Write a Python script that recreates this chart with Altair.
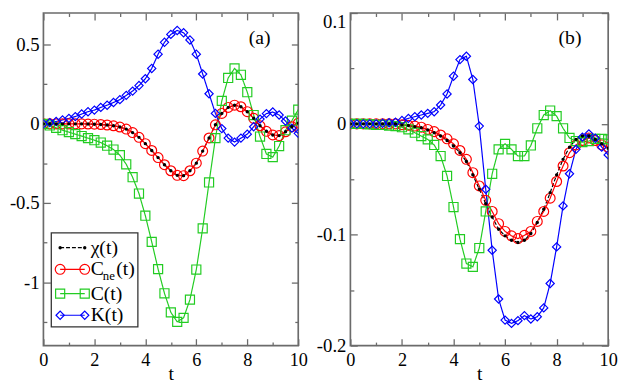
import altair as alt
import pandas as pd

# ---------------- data ----------------
T = [0, 0.25, 0.5, 0.75, 1, 1.25, 1.5, 1.75, 2, 2.25, 2.5, 2.75, 3, 3.25, 3.5, 3.75,
     4, 4.25, 4.5, 4.75, 5, 5.25, 5.5, 5.75, 6, 6.25, 6.5, 6.75, 7, 7.25, 7.5, 7.75,
     8, 8.25, 8.5, 8.75, 9, 9.25, 9.5, 9.75, 10]

SERIES = ["χ(t)", "C_ne(t)", "C(t)", "K(t)"]
COLORS = ["#000000", "#ff0000", "#22cc22", "#0000ff"]

# panel (a)
A_CNE = [0, 0, 0, 0, 0, 0, 0, -0.001, -0.002, -0.004, -0.007, -0.012, -0.02, -0.033,
         -0.055, -0.085, -0.125, -0.168, -0.213, -0.258, -0.296, -0.325, -0.327, -0.296,
         -0.248, -0.172, -0.089, -0.006, 0.066, 0.104, 0.118, 0.108, 0.077, 0.035,
         -0.012, -0.047, -0.07, -0.074, -0.05, -0.018, 0.005]
A_CHI = [0, 0, 0, 0, 0, 0, 0, -0.001, -0.002, -0.004, -0.007, -0.012, -0.02, -0.033,
         -0.055, -0.085, -0.125, -0.168, -0.213, -0.258, -0.296, -0.325, -0.327, -0.296,
         -0.248, -0.172, -0.089, -0.006, 0.066, 0.104, 0.118, 0.108, 0.077, 0.035,
         -0.012, -0.047, -0.07, -0.074, -0.05, -0.018, 0.005]
A_C = [0, -0.01, -0.025, -0.04, -0.052, -0.065, -0.077, -0.09, -0.103, -0.118, -0.138,
       -0.162, -0.198, -0.255, -0.337, -0.44, -0.58, -0.745, -0.917, -1.07, -1.19, -1.25,
       -1.225, -1.11, -0.92, -0.66, -0.37, -0.09, 0.145, 0.29, 0.35, 0.31, 0.2, 0.056,
       -0.08, -0.19, -0.21, -0.14, -0.04, 0.02, 0.09]
A_K = [0, 0.008, 0.015, 0.025, 0.035, 0.046, 0.062, 0.077, 0.087, 0.104, 0.118, 0.135,
       0.153, 0.18, 0.207, 0.242, 0.285, 0.35, 0.44, 0.515, 0.565, 0.59, 0.575, 0.53,
       0.44, 0.315, 0.19, 0.066, -0.03, -0.09, -0.115, -0.09, -0.065, -0.018, 0.03,
       0.065, 0.075, 0.056, 0.018, -0.027, -0.06]

# panel (b)
B_CNE = [0, 0, 0, 0, 0, 0, 0, 0, -0.0008, -0.0013, -0.002, -0.003, -0.005, -0.007,
         -0.01, -0.0135, -0.018, -0.024, -0.032, -0.044, -0.056, -0.069, -0.079, -0.09,
         -0.097, -0.101, -0.1035, -0.1005, -0.097, -0.088, -0.079, -0.067, -0.052,
         -0.038, -0.026, -0.019, -0.015, -0.0127, -0.015, -0.019, -0.021]
B_CHI = [0, 0, 0, 0, 0, 0, 0, 0, -0.001, -0.0015, -0.0025, -0.0035, -0.0055, -0.008,
         -0.011, -0.015, -0.02, -0.026, -0.034, -0.046, -0.059, -0.072, -0.084, -0.095,
         -0.101, -0.105, -0.107, -0.105, -0.099, -0.089, -0.077, -0.062, -0.046, -0.032,
         -0.021, -0.014, -0.011, -0.011, -0.014, -0.018, -0.022]
B_C = [0, 0, 0, -0.0005, -0.001, -0.001, -0.0015, -0.002, -0.003, -0.005, -0.008,
       -0.011, -0.014, -0.019, -0.029, -0.047, -0.075, -0.104, -0.126, -0.129, -0.112,
       -0.079, -0.045, -0.023, -0.018, -0.023, -0.029, -0.029, -0.0195, -0.004, 0.008,
       0.012, 0.007, -0.004, -0.0127, -0.0155, -0.0165, -0.0155, -0.0135, -0.0135, -0.014]
B_K = [0, 0, 0, 0, 0, 0.0005, 0.001, 0.0015, 0.003, 0.005, 0.0065, 0.008, 0.0095, 0.011,
       0.017, 0.027, 0.043, 0.058, 0.061, 0.04, -0.002, -0.059, -0.114, -0.158, -0.177,
       -0.18, -0.1775, -0.173, -0.176, -0.174, -0.166, -0.144, -0.111, -0.074, -0.045,
       -0.023, -0.012, -0.009, -0.013, -0.021, -0.028]

X_TICKS = [0, 1, 2, 3, 4, 5, 6, 7, 8, 9, 10]
A_YTICKS = [-1.25, -1.0, -0.75, -0.5, -0.25, 0, 0.25, 0.5]
B_YTICKS = [-0.2, -0.15, -0.1, -0.05, 0, 0.05, 0.1]

# ---------------- style ----------------
FONT = "'Liberation Serif', 'Times New Roman', 'DejaVu Serif', serif"
FRAME = "#6b6b6b"

color_scale = alt.Scale(domain=SERIES, range=COLORS)
dash_scale = alt.Scale(domain=SERIES, range=[[4, 2], [1, 0], [1, 0], [1, 0]])
shape_scale = alt.Scale(domain=SERIES[1:], range=["circle", "square", "diamond"])
size_scale = alt.Scale(domain=SERIES[1:], range=[100, 70, 85])


def long_df(chi, cne, c, k):
    rows = []
    for name, vals in zip(SERIES, [chi, cne, c, k]):
        for t, v in zip(T, vals):
            rows.append({"t": t, "v": v, "s": name})
    return pd.DataFrame(rows)


def x_axis(orient, show_labels):
    kw = dict(orient=orient, values=X_TICKS, domain=False, grid=False,
              tickColor=FRAME, tickWidth=1.3,
              tickSize=alt.ExprRef("datum.value % 2 == 0 ? -7 : -3.5"),
              labels=show_labels, labelOverlap=False, labelFlush=False,
              labelFont=FONT, labelFontSize=18.5, labelColor="black",
              labelPadding=12,
              labelExpr="datum.value % 2 == 0 ? '' + datum.value : ''")
    if show_labels:
        kw.update(titleFont=FONT, titleFontSize=20, titleFontWeight="normal",
                  titleColor="black", titleY=34, titleBaseline="alphabetic")
    return alt.Axis(**kw)


def y_axis(orient, show_labels, values, mult, top_value=None):
    major = f"abs(datum.value*{mult} - round(datum.value*{mult})) < 1e-6"
    kw = dict(orient=orient, values=values, domain=False, grid=False,
              tickColor=FRAME, tickWidth=1.3,
              tickSize=alt.ExprRef(f"{major} ? -7 : -3.5"),
              labels=show_labels, labelOverlap=False, labelFlush=False,
              labelFont=FONT, labelFontSize=19, labelColor="black",
              labelPadding=11.5,
              labelExpr=f"{major} ? '' + datum.value : ''")
    if top_value is not None:
        kw["labelBaseline"] = {"condition": {"test": f"datum.value > {top_value}",
                                             "value": "top"},
                               "value": "middle"}
    return alt.Axis(**kw)


def panel(df, ydomain, yticks, mult, width, label, label_x, legend, top_value=None):
    xs = alt.Scale(domain=[0, 10], nice=False, zero=False)
    ys = alt.Scale(domain=ydomain, nice=False, zero=False)

    lines = alt.Chart(df).mark_line(strokeWidth=1.2, clip=True).encode(
        x=alt.X("t:Q", scale=xs, axis=x_axis("bottom", True), title="t"),
        y=alt.Y("v:Q", scale=ys, axis=y_axis("left", True, yticks, mult, top_value),
                title=None),
        color=alt.Color("s:N", scale=color_scale, legend=None),
        strokeDash=alt.StrokeDash("s:N", scale=dash_scale, legend=None),
    )
    pts = alt.Chart(df).transform_filter(alt.datum.s != SERIES[0]).mark_point(
        filled=False, strokeWidth=1.2, opacity=1, clip=True).encode(
        x=alt.X("t:Q", scale=xs, axis=x_axis("top", False), title=None),
        y=alt.Y("v:Q", scale=ys, axis=y_axis("right", False, yticks, mult), title=None),
        color=alt.Color("s:N", scale=color_scale, legend=None),
        shape=alt.Shape("s:N", scale=shape_scale, legend=None),
        size=alt.Size("s:N", scale=size_scale, legend=None),
    )
    dots = alt.Chart(df).transform_filter(alt.datum.s == SERIES[0]).mark_circle(
        size=12, color="black", opacity=1, clip=True).encode(
        x=alt.X("t:Q", scale=xs, axis=None),
        y=alt.Y("v:Q", scale=ys, axis=None),
    )
    tag = alt.Chart(pd.DataFrame({"k": [0]})).mark_text(
        font=FONT, fontSize=20, align="center", baseline="middle", color="black").encode(
        x=alt.value(label_x), y=alt.value(25.5), text=alt.value(label))

    layers = [lines, pts, dots]
    if legend:
        layers += legend_layers()
    layers.append(tag)
    return alt.layer(*layers).properties(width=width, height=338)


def legend_layers():
    # layout of the legend box (pixels inside panel (a))
    bx0, bx1, by0, by1 = 8, 96, 223.5, 319
    row_y = [238.5, 260.5, 285.2, 307.2]
    lx0, lx1, tx = 17, 42, 48
    rows = pd.DataFrame({"s": SERIES, "ly": row_y})
    ends = pd.DataFrame({"s": [s for s in SERIES for _ in (0, 1)],
                         "ly": [y for y in row_y for _ in (0, 1)],
                         "lx": [lx0, lx1] * len(SERIES)})
    main_txt = ["χ(t)", "C", "C(t)", "K(t)"]
    texts = pd.DataFrame({"txt": main_txt, "lx": [tx] * 4, "ly": row_y})
    sub = pd.DataFrame({"txt": ["ne", "(t)"], "lx": [60.3, 74],
                        "ly": [row_y[1] + 6.5, row_y[1]], "fs": [13, 20]})

    box = alt.Chart(pd.DataFrame({"k": [0]})).mark_rect(
        fill="white", stroke="#333333", strokeWidth=1.3).encode(
        x=alt.value(bx0), x2=alt.value(bx1), y=alt.value(by0), y2=alt.value(by1))
    rules = alt.Chart(rows).mark_rule(strokeWidth=1.2).encode(
        x=alt.value(lx0), x2=alt.value(lx1),
        y=alt.Y("ly:Q", scale=None, axis=None),
        color=alt.Color("s:N", scale=color_scale, legend=None),
        strokeDash=alt.StrokeDash("s:N", scale=dash_scale, legend=None))
    lpts = alt.Chart(ends).transform_filter(alt.datum.s != SERIES[0]).mark_point(
        filled=False, strokeWidth=1.2, opacity=1).encode(
        x=alt.X("lx:Q", scale=None, axis=None),
        y=alt.Y("ly:Q", scale=None, axis=None),
        color=alt.Color("s:N", scale=color_scale, legend=None),
        shape=alt.Shape("s:N", scale=shape_scale, legend=None),
        size=alt.Size("s:N", scale=size_scale, legend=None))
    ldots = alt.Chart(ends).transform_filter(alt.datum.s == SERIES[0]).mark_circle(
        size=12, color="black", opacity=1).encode(
        x=alt.X("lx:Q", scale=None, axis=None),
        y=alt.Y("ly:Q", scale=None, axis=None))
    ltxt = alt.Chart(texts).mark_text(
        font=FONT, fontSize=20, align="left", baseline="middle", color="black").encode(
        x=alt.X("lx:Q", scale=None, axis=None),
        y=alt.Y("ly:Q", scale=None, axis=None),
        text="txt:N")
    lsub = alt.Chart(sub).mark_text(
        font=FONT, align="left", baseline="middle", color="black").encode(
        x=alt.X("lx:Q", scale=None, axis=None),
        y=alt.Y("ly:Q", scale=None, axis=None),
        size=alt.Size("fs:Q", scale=None, legend=None),
        text="txt:N")
    return [box, rules, lpts, ldots, ltxt, lsub]


pa = panel(long_df(A_CHI, A_CNE, A_C, A_K), [-1.4, 0.7], A_YTICKS, 2, 259,
           "(a)", 219.7, True)
pb = panel(long_df(B_CHI, B_CNE, B_C, B_K), [-0.2, 0.1], B_YTICKS, 10, 262,
           "(b)", 223.2, False, top_value=0.09)

chart = alt.hconcat(pa, pb, spacing=53, bounds="flush").properties(
    padding={"left": 0, "top": 0, "right": 0, "bottom": 0}
).configure_view(stroke=FRAME, strokeWidth=1.7)

chart.save("out.html", embed_options={"renderer": "svg", "actions": False})
